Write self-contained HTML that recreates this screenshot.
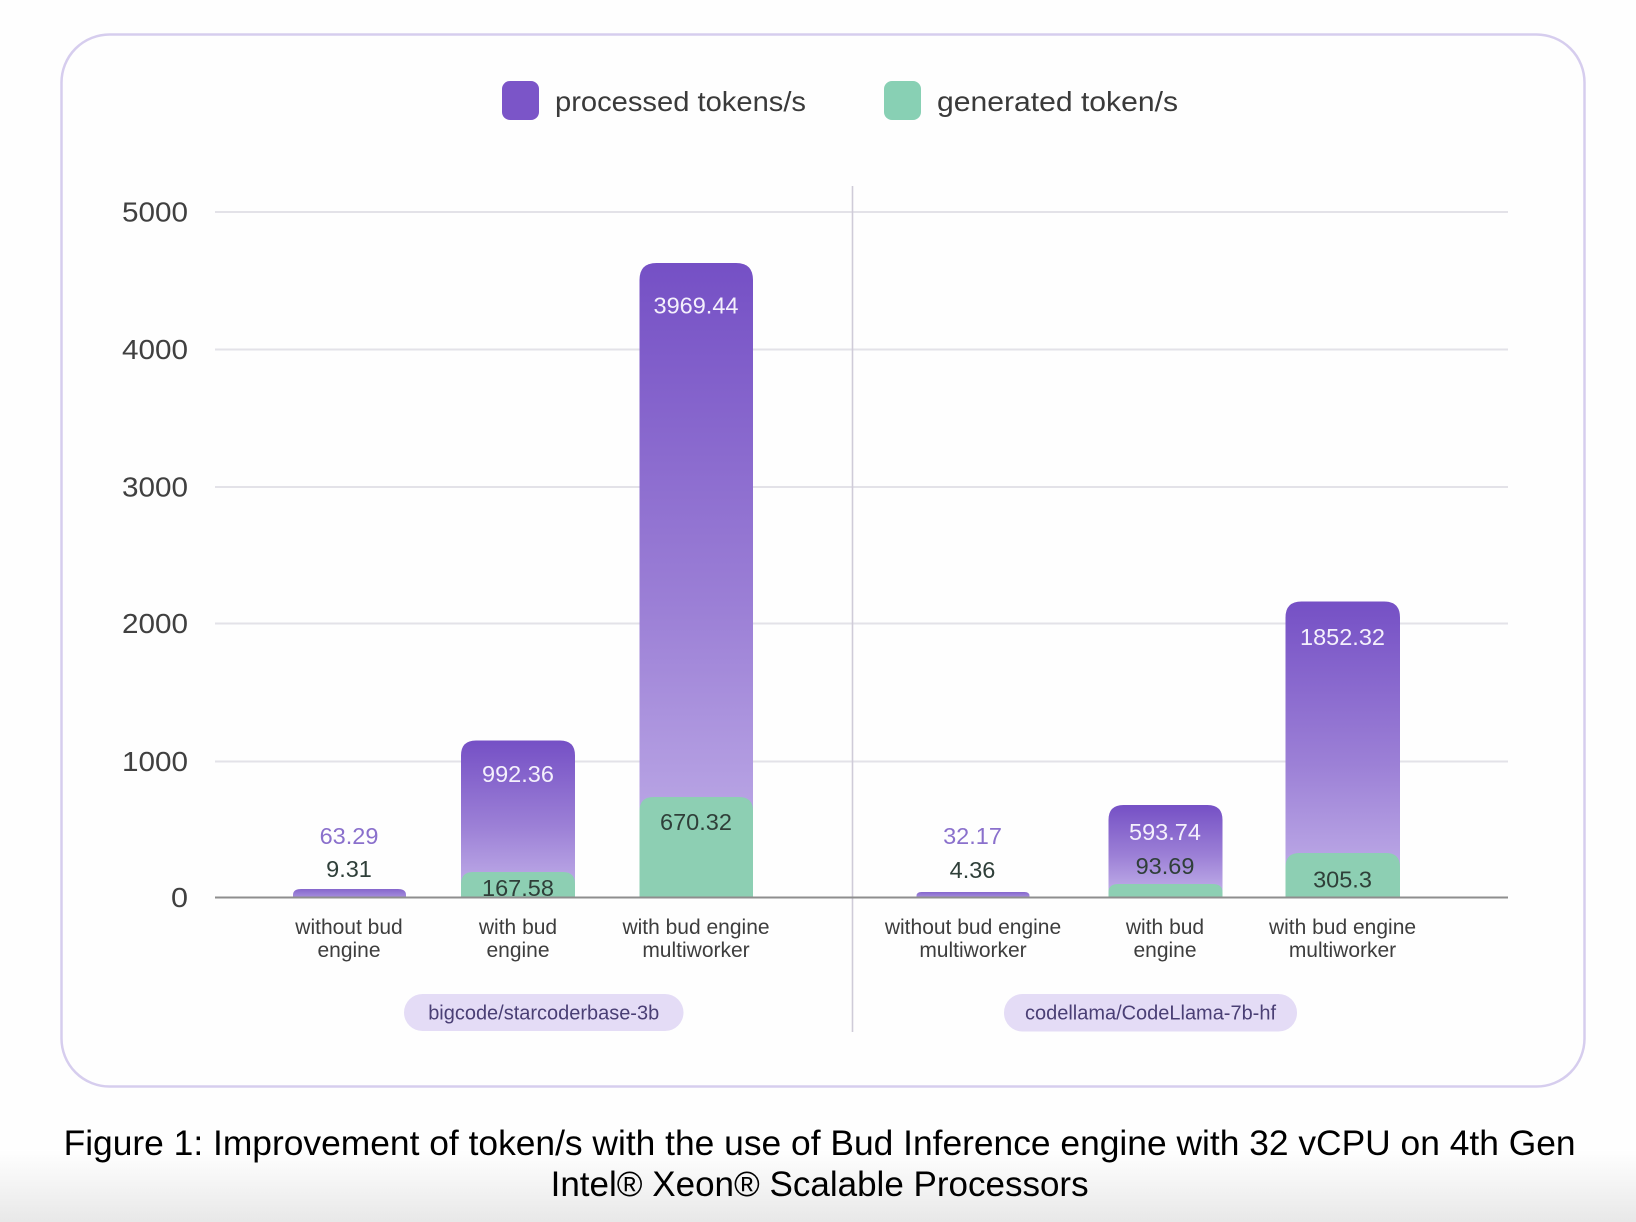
<!DOCTYPE html>
<html>
<head>
<meta charset="utf-8">
<style>
  html, body { margin: 0; padding: 0; background: #ffffff; }
  body { width: 1636px; height: 1222px; overflow: hidden; }
  svg { display: block; }
  text { font-family: "Liberation Sans", "DejaVu Sans", sans-serif; }
</style>
</head>
<body>
<svg width="1636" height="1222" viewBox="0 0 1636 1222" xmlns="http://www.w3.org/2000/svg">
  <defs>
    <linearGradient id="pg" x1="0" y1="0" x2="0" y2="1">
      <stop offset="0" stop-color="#7550c5"/>
      <stop offset="0.55" stop-color="#9c80d6"/>
      <stop offset="1" stop-color="#c4b3ea"/>
    </linearGradient>
    <linearGradient id="pgs" x1="0" y1="0" x2="0" y2="1">
      <stop offset="0" stop-color="#8566cc"/>
      <stop offset="1" stop-color="#a48cdc"/>
    </linearGradient>
    <linearGradient id="bg" x1="0" y1="0" x2="0" y2="1">
      <stop offset="0" stop-color="#ffffff"/>
      <stop offset="1" stop-color="#e8e8e8"/>
    </linearGradient>
  </defs>

  <!-- page background -->
  <rect x="0" y="0" width="1636" height="1222" fill="#fefefe"/>
  <rect x="0" y="1150" width="1636" height="72" fill="url(#bg)"/>

  <!-- card -->
  <rect x="61.5" y="34.5" width="1523" height="1052" rx="48" ry="48" fill="#fefefe" stroke="#d6cdee" stroke-width="2.5"/>

  <!-- legend -->
  <rect x="502" y="81" width="37" height="39" rx="8" ry="8" fill="#7b55c8"/>
  <text x="555" y="111" font-size="28" fill="#3a3a3a" textLength="251" lengthAdjust="spacingAndGlyphs">processed tokens/s</text>
  <rect x="884" y="81" width="37" height="39" rx="8" ry="8" fill="#88d0b4"/>
  <text x="937" y="111" font-size="28" fill="#3a3a3a" textLength="241" lengthAdjust="spacingAndGlyphs">generated token/s</text>

  <!-- gridlines -->
  <g stroke="#e3e2e8" stroke-width="2">
    <line x1="215" y1="212" x2="1508" y2="212"/>
    <line x1="215" y1="349.5" x2="1508" y2="349.5"/>
    <line x1="215" y1="487" x2="1508" y2="487"/>
    <line x1="215" y1="623.5" x2="1508" y2="623.5"/>
    <line x1="215" y1="761.5" x2="1508" y2="761.5"/>
  </g>

  <!-- y labels -->
  <g font-size="28" fill="#404040" text-anchor="end">
    <text x="188" y="221.5" textLength="66" lengthAdjust="spacingAndGlyphs">5000</text>
    <text x="188" y="359" textLength="66" lengthAdjust="spacingAndGlyphs">4000</text>
    <text x="188" y="496.5" textLength="66" lengthAdjust="spacingAndGlyphs">3000</text>
    <text x="188" y="633" textLength="66" lengthAdjust="spacingAndGlyphs">2000</text>
    <text x="188" y="771" textLength="66" lengthAdjust="spacingAndGlyphs">1000</text>
    <text x="188" y="907" textLength="17" lengthAdjust="spacingAndGlyphs">0</text>
  </g>

  <!-- divider -->
  <line x1="852.5" y1="186" x2="852.5" y2="1032" stroke="#cfcbd8" stroke-width="1.6"/>

  <!-- bars group 1 -->
  <!-- bar 1 -->
  <path d="M293,897 L293,895 Q293,889 301,889 L398,889 Q406,889 406,895 L406,897 Z" fill="url(#pgs)"/>
  <!-- bar 2 -->
  <path d="M461,897 L461,755.5 Q461,740.5 476,740.5 L560,740.5 Q575,740.5 575,755.5 L575,897 Z" fill="url(#pg)"/>
  <path d="M461,897 L461,884 Q461,872 473,872 L563,872 Q575,872 575,884 L575,897 Z" fill="#8dcfb3"/>
  <!-- bar 3 -->
  <path d="M639.5,897 L639.5,280 Q639.5,263 656.5,263 L736,263 Q753,263 753,280 L753,897 Z" fill="url(#pg)"/>
  <path d="M639.5,897 L639.5,811 Q639.5,797 653.5,797 L739,797 Q753,797 753,811 L753,897 Z" fill="#8dcfb3"/>

  <!-- bars group 2 -->
  <!-- bar 4 -->
  <path d="M916.5,897 L916.5,896 Q916.5,892 921.5,892 L1024.5,892 Q1029.5,892 1029.5,896 L1029.5,897 Z" fill="url(#pgs)"/>
  <!-- bar 5 -->
  <path d="M1108.5,897 L1108.5,820 Q1108.5,805 1123.5,805 L1207.5,805 Q1222.5,805 1222.5,820 L1222.5,897 Z" fill="url(#pg)"/>
  <path d="M1108.5,897 L1108.5,892 Q1108.5,884 1118.5,884 L1212.5,884 Q1222.5,884 1222.5,892 L1222.5,897 Z" fill="#8dcfb3"/>
  <!-- bar 6 -->
  <path d="M1285.5,897 L1285.5,617.5 Q1285.5,601.5 1301.5,601.5 L1384,601.5 Q1400,601.5 1400,617.5 L1400,897 Z" fill="url(#pg)"/>
  <path d="M1285.5,897 L1285.5,867 Q1285.5,853 1299.5,853 L1386,853 Q1400,853 1400,867 L1400,897 Z" fill="#8dcfb3"/>

  <!-- zero axis -->
  <line x1="215" y1="897.5" x2="1508" y2="897.5" stroke="#8e8e8e" stroke-width="2"/>

  <!-- value labels -->
  <g font-size="23.5" text-anchor="middle">
    <text x="349" y="844" fill="#8a70cc">63.29</text>
    <text x="349" y="877" fill="#2f3f39">9.31</text>
    <text x="518" y="782" fill="#f4f0fc">992.36</text>
    <text x="518" y="896" fill="#2f3f39">167.58</text>
    <text x="696" y="313.5" fill="#f4f0fc">3969.44</text>
    <text x="696" y="830" fill="#2f3f39">670.32</text>
    <text x="972.5" y="844" fill="#8a70cc">32.17</text>
    <text x="972.5" y="878" fill="#2f3f39">4.36</text>
    <text x="1165" y="840" fill="#f4f0fc">593.74</text>
    <text x="1165" y="874" fill="#2f3f39">93.69</text>
    <text x="1342.5" y="645" fill="#f4f0fc">1852.32</text>
    <text x="1342.5" y="887.5" fill="#2f3f39">305.3</text>
  </g>

  <!-- x labels -->
  <g font-size="21" fill="#3d3d3d" text-anchor="middle">
    <text x="349" y="934">without bud</text>
    <text x="349" y="957">engine</text>
    <text x="518" y="934">with bud</text>
    <text x="518" y="957">engine</text>
    <text x="696" y="934">with bud engine</text>
    <text x="696" y="957">multiworker</text>
    <text x="973" y="934">without bud engine</text>
    <text x="973" y="957">multiworker</text>
    <text x="1165" y="934">with bud</text>
    <text x="1165" y="957">engine</text>
    <text x="1342.5" y="934">with bud engine</text>
    <text x="1342.5" y="957">multiworker</text>
  </g>

  <!-- group pills -->
  <rect x="404" y="994" width="279.5" height="37" rx="18.5" ry="18.5" fill="#e4dcf6"/>
  <text x="543.7" y="1019.5" font-size="20" fill="#4a3f75" text-anchor="middle" textLength="231" lengthAdjust="spacingAndGlyphs">bigcode/starcoderbase-3b</text>
  <rect x="1004" y="994" width="293" height="37.5" rx="18.5" ry="18.5" fill="#e4dcf6"/>
  <text x="1150.5" y="1019.5" font-size="20" fill="#4a3f75" text-anchor="middle" textLength="251" lengthAdjust="spacingAndGlyphs">codellama/CodeLlama-7b-hf</text>

  <!-- caption -->
  <g font-size="35" fill="#000000" text-anchor="middle">
    <text x="819.6" y="1155" textLength="1512" lengthAdjust="spacingAndGlyphs">Figure 1: Improvement of token/s with the use of Bud Inference engine with 32 vCPU on 4th Gen</text>
    <text x="819.6" y="1196">Intel® Xeon® Scalable Processors</text>
  </g>
</svg>
</body>
</html>
